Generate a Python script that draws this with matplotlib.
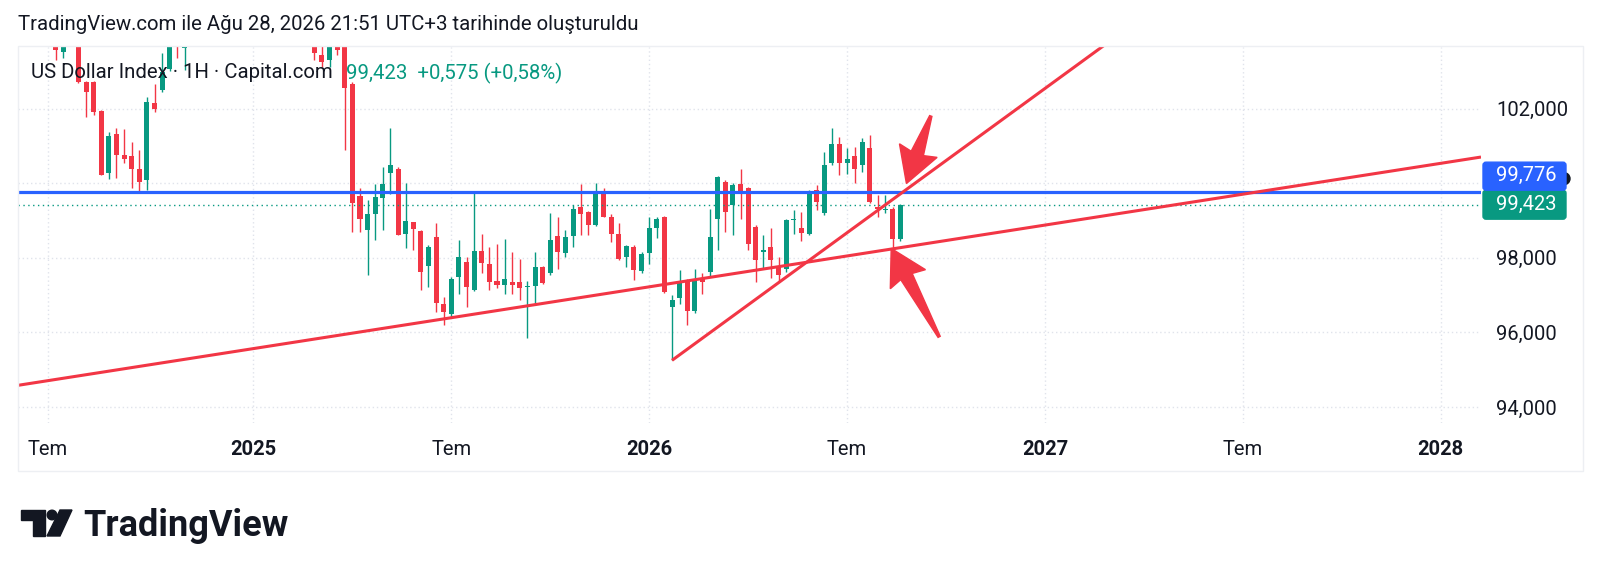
import matplotlib
matplotlib.use("Agg")
import matplotlib.pyplot as plt
import numpy as np
from matplotlib.patches import Polygon, FancyBboxPatch, Rectangle, Circle
from matplotlib.transforms import IdentityTransform

plt.rcParams['font.family'] = ['Roboto', 'DejaVu Sans']

# weekly candles, bar index counted from the week of 1 Jul 2024
first_bar = -4
opens = [105.2, 105.0, 104.7, 105.1, 104.5, 104.1, 103.51, 104.0, 104.3, 102.71,
         102.71, 101.94, 100.26, 101.31, 100.75, 100.72, 100.39, 100.08, 102.16, 102.51,
         103.07, 104.1, 103.62, 103.9, 104.4, 104.8, 105.4, 105.9, 106.3, 106.0,
         106.9, 107.0, 108.0, 109.2, 109.4, 107.9, 107.4, 106.7, 105.8, 104.3,
         103.43, 103.30, 104.0, 103.8, 102.67, 99.65, 98.74, 99.17, 99.59, 100.26,
         100.39, 98.65, 98.95, 98.72, 97.77, 98.56, 96.75, 96.49, 97.49, 97.89,
         97.13, 98.18, 97.83, 97.38, 97.27, 97.35, 97.35, 97.21, 97.24, 97.76,
         97.58, 98.58, 98.13, 98.58, 99.35, 99.23, 98.87, 99.79, 99.10, 98.63,
         98.01, 98.28, 97.65, 98.13, 98.81, 99.10, 96.67, 96.91, 97.40, 96.58,
         97.44, 97.62, 99.05, 100.03, 99.41, 99.99, 99.88, 98.83, 98.16, 98.28,
         97.76, 97.71, 99.01, 98.81, 98.63, 99.81, 99.19, 100.53, 101.06, 100.53,
         100.72, 100.48, 100.93, 99.35, 99.28, 99.32, 98.49]
highs = [105.6, 105.4, 105.3, 105.3, 104.7, 104.3, 104.2, 104.6, 104.5, 102.75,
         102.75, 101.96, 101.38, 101.49, 101.44, 101.11, 100.88, 102.31, 102.67, 103.48,
         104.0, 104.3, 104.2, 104.6, 105.0, 105.6, 106.1, 106.6, 106.6, 107.2,
         107.5, 108.2, 109.4, 109.8, 109.6, 108.3, 107.7, 107.2, 106.2, 104.5,
         103.8, 104.1, 104.2, 104.0, 102.70, 99.86, 99.54, 99.99, 100.44, 101.49,
         100.42, 100.01, 98.97, 98.74, 98.34, 98.94, 96.95, 97.49, 98.47, 98.02,
         99.74, 98.63, 98.28, 98.36, 98.49, 98.16, 97.98, 97.38, 98.16, 97.78,
         99.19, 99.10, 98.74, 99.41, 99.97, 99.25, 100.01, 99.86, 99.17, 98.92,
         98.34, 98.34, 98.16, 99.10, 99.10, 99.12, 97.00, 97.67, 97.42, 97.71,
         97.58, 99.32, 100.20, 100.08, 100.00, 100.39, 99.90, 98.87, 98.61, 98.81,
         98.02, 99.03, 99.28, 99.23, 99.82, 99.95, 100.84, 101.49, 101.24, 100.93,
         100.97, 101.20, 101.29, 99.68, 99.68, 99.35, 99.45]
lows = [104.8, 104.5, 104.4, 104.3, 103.9, 103.30, 103.35, 103.8, 102.68, 101.77,
        101.82, 100.21, 100.10, 100.13, 100.53, 99.86, 99.77, 99.81, 101.91, 102.45,
        103.0, 103.35, 103.03, 103.8, 104.2, 104.6, 105.1, 105.6, 105.7, 105.9,
        106.5, 106.8, 107.7, 108.7, 107.6, 107.0, 106.4, 105.5, 104.1, 103.30,
        103.12, 103.12, 103.43, 100.88, 98.69, 98.69, 97.53, 98.47, 98.74, 99.72,
        98.61, 98.25, 98.20, 97.13, 97.22, 96.55, 96.19, 96.42, 97.04, 96.68,
        97.10, 97.58, 97.13, 97.18, 97.04, 97.04, 96.86, 95.84, 96.77, 97.29,
        97.53, 97.69, 98.02, 98.29, 98.61, 98.61, 98.85, 99.08, 98.43, 97.94,
        97.76, 97.40, 97.58, 97.83, 98.52, 97.05, 95.25, 96.76, 96.19, 96.51,
        97.04, 97.49, 98.20, 98.69, 98.61, 99.05, 98.20, 97.35, 97.71, 97.45,
        97.35, 97.62, 98.65, 98.45, 98.60, 99.28, 99.14, 100.48, 100.21, 100.24,
        100.01, 100.30, 99.46, 99.10, 99.19, 98.25, 98.45]
closes = [105.0, 104.7, 105.1, 104.5, 104.1, 103.57, 104.0, 104.3, 102.71, 102.44,
          101.90, 100.21, 101.27, 100.75, 100.66, 100.39, 100.04, 102.18, 102.00, 102.98,
          103.8, 103.8, 103.9, 104.4, 104.8, 105.4, 105.9, 106.3, 106.0, 106.9,
          107.0, 108.0, 109.2, 109.4, 107.9, 107.4, 106.7, 105.8, 104.3, 103.48,
          103.25, 103.9, 103.57, 102.54, 99.46, 99.03, 99.17, 99.63, 99.97, 100.48,
          98.61, 98.99, 98.77, 97.62, 98.28, 96.79, 96.55, 97.42, 98.01, 97.22,
          98.18, 97.85, 97.35, 97.27, 97.42, 97.27, 97.18, 97.24, 97.76, 97.31,
          98.47, 98.16, 98.56, 99.32, 99.17, 98.87, 99.79, 99.10, 98.65, 97.98,
          98.31, 97.67, 98.10, 98.79, 99.03, 97.09, 96.88, 97.35, 96.58, 97.44,
          97.35, 98.56, 100.17, 99.23, 99.95, 99.74, 98.36, 97.94, 98.20, 97.94,
          97.53, 99.01, 99.05, 98.67, 99.79, 99.50, 100.48, 101.06, 100.53, 100.64,
          100.39, 101.11, 99.50, 99.32, 99.32, 98.49, 99.423]

tick_bars = [0, 27, 53, 79, 105, 131, 157, 183]
tick_labels = ['Tem', '2025', 'Tem', '2026', 'Tem', '2027', 'Tem', '2028']
price_ticks = [94, 96, 98, 100, 102]
price_labels = ['94,000', '96,000', '98,000', '', '102,000']

hline_level = 99.776
last_price = 99.423
lower_trend_x = [-3.94, 188.3]
lower_trend_y = [94.58, 100.70]
steep_trend_x = [82, 145]
steep_trend_y = [95.25, 104.62]
# arrows: (tail, tip) in bar / price
arrow_top = ((116.0, 101.80), (112.8, 99.99))
arrow_bottom = ((117.1, 95.88), (110.8, 98.25))

RED = '#F23645'
GREEN = '#089981'
BLUE = '#2962FF'
TEXT = '#131722'
GRID = '#E0E3EB'

W, H = 1600, 573
fig = plt.figure(figsize=(16, 5.73), dpi=100)
fig.patch.set_facecolor('white')
ax = fig.add_axes([18 / W, 1 - 423 / H, (1481 - 18) / W, (423 - 47) / H])
ax.set_xlim(-3.94, 188.3)
ax.set_ylim(93.57, 103.65)
for s in ax.spines.values():
    s.set_visible(False)

# grid
for b in tick_bars:
    ax.axvline(b, color=GRID, lw=1, ls=(0, (1, 2)), zorder=0)
for p in price_ticks:
    ax.axhline(p, color=GRID, lw=1, ls=(0, (1, 2)), zorder=0)

# candles
bars = np.arange(first_bar, first_bar + len(opens))
o = np.array(opens); h = np.array(highs); l = np.array(lows); c = np.array(closes)
colors = np.where(c >= o, GREEN, RED)
ax.vlines(bars, l, h, colors=colors, lw=1, zorder=2)
ax.bar(bars, np.maximum(np.abs(c - o), 0.03), bottom=np.minimum(o, c), width=0.66,
       color=colors, zorder=3)

# horizontal lines
ax.axhline(hline_level, color=BLUE, lw=2.3, zorder=4)
ax.axhline(last_price, color=GREEN, lw=1, ls=(0, (1, 2.5)), zorder=4)

# trend lines
ax.plot(lower_trend_x, lower_trend_y, color=RED, lw=2.2, zorder=5, solid_capstyle='butt')
ax.plot(steep_trend_x, steep_trend_y, color=RED, lw=2.2, zorder=5, solid_capstyle='butt')

# ticks
ax.set_xticks(tick_bars)
ax.set_xticklabels(tick_labels)
ax.tick_params(axis='x', length=0, pad=12, labelsize=14.5, labelcolor=TEXT)
for t in ax.get_xticklabels():
    if t.get_text() != 'Tem':
        t.set_fontweight('bold')
ax.yaxis.tick_right()
ax.set_yticks(price_ticks)
ax.set_yticklabels(price_labels)
ax.tick_params(axis='y', length=0, pad=11, labelsize=14.5, labelcolor=TEXT)


def draw_arrow(tail, tip, head_len=32, head_half=20, shaft_base=6.5, shaft_tail=1.2):
    p_tail = ax.transData.transform(tail)
    p_tip = ax.transData.transform(tip)
    d = p_tip - p_tail
    u = d / np.hypot(*d)
    n = np.array([-u[1], u[0]])
    base = p_tip - u * head_len
    wing = base - u * 3
    pts = [p_tip, wing + n * head_half, base + n * shaft_base, p_tail + n * shaft_tail,
           p_tail - n * shaft_tail, base - n * shaft_base, wing - n * head_half]
    ax.add_patch(Polygon(pts, closed=True, transform=IdentityTransform(), color=RED,
                         zorder=6, clip_on=False))


draw_arrow(*arrow_top)
draw_arrow(*arrow_bottom)

ident = IdentityTransform()
# outer frame
fig.add_artist(Rectangle((18, H - 471), 1565, 425, transform=ident, fill=False,
                         edgecolor='#EDEFF3', lw=1))

# price labels on the axis
gy = ax.transData.transform((0, last_price))[1]
box_h = 29
fig.add_artist(Circle((1564, gy + box_h - 3), 6, transform=ident, color='#131722', zorder=8))
fig.add_artist(FancyBboxPatch((1483, gy - box_h / 2), 83, box_h, transform=ident,
                              boxstyle='round,pad=0,rounding_size=3', color=GREEN, zorder=9))
fig.add_artist(FancyBboxPatch((1483, gy + box_h / 2), 83, box_h - 1, transform=ident,
                              boxstyle='round,pad=0,rounding_size=3', color=BLUE, zorder=9))
fig.text(1496, gy, f'{last_price:.3f}'.replace('.', ','), transform=ident, color='white',
         fontsize=14.5, va='center', ha='left', zorder=10)
fig.text(1496, gy + box_h, f'{hline_level:.3f}'.replace('.', ','), transform=ident,
         color='white', fontsize=14.5, va='center', ha='left', zorder=10)

# header and legend
fig.text(18, H - 25, 'TradingView.com ile Ağu 28, 2026 21:51 UTC+3 tarihinde oluşturuldu',
         transform=ident, fontsize=14.7, color=TEXT, va='center', ha='left')
fig.text(31, H - 73, 'US Dollar Index · 1H · Capital.com', transform=ident,
         fontsize=14.7, color=TEXT, va='center', ha='left', zorder=10)
fig.text(346, H - 73, '99,423  +0,575 (+0,58%)', transform=ident,
         fontsize=14.7, color=GREEN, va='center', ha='left', zorder=10)

# TradingView logo
logo = '#131722'
fig.add_artist(Polygon([(21, H - 510), (45, H - 510), (45, H - 536), (33, H - 536),
                        (33, H - 520), (21, H - 520)], transform=ident, color=logo))
fig.add_artist(Circle((52, H - 515), 4.8, transform=ident, color=logo))
fig.add_artist(Polygon([(60, H - 510), (72, H - 510), (60, H - 536), (47, H - 536)],
                       transform=ident, color=logo))
fig.text(83, H - 536, 'TradingView', transform=ident, fontsize=26, fontweight='bold',
         color=logo, va='baseline', ha='left')

fig.savefig('out.png', dpi=100, facecolor='white')
